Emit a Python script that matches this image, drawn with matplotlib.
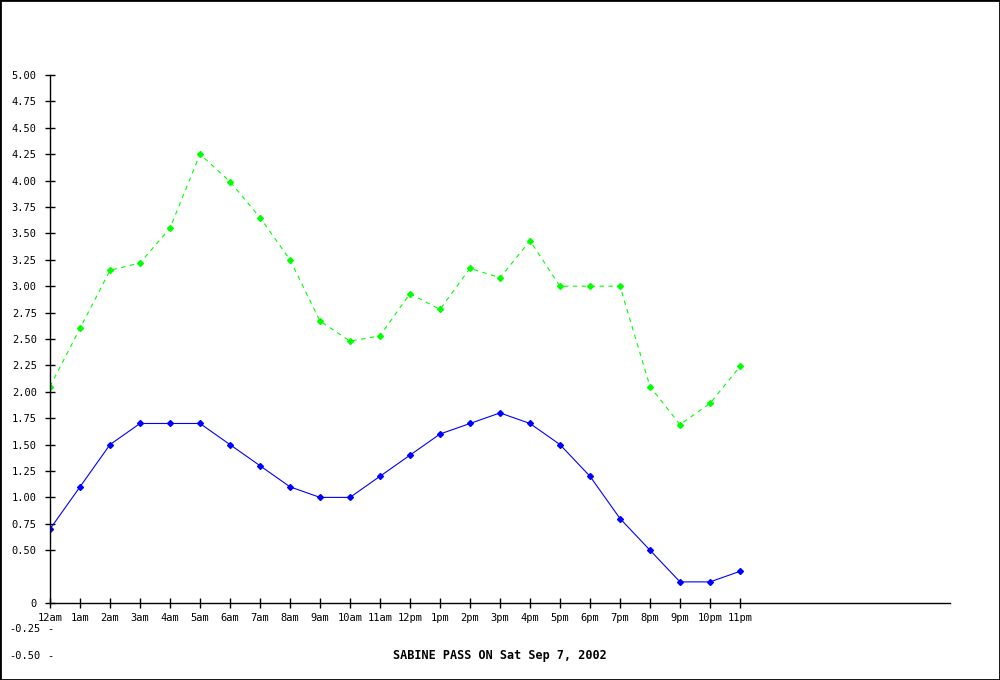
#script to redraw the Sabine Pass hourly chart

import matplotlib
matplotlib.use("Agg")
import matplotlib.pyplot as plt
from matplotlib.patches import Rectangle

hours = ["12am", "1am", "2am", "3am", "4am", "5am", "6am", "7am", "8am", "9am",
         "10am", "11am", "12pm", "1pm", "2pm", "3pm", "4pm", "5pm", "6pm", "7pm",
         "8pm", "9pm", "10pm", "11pm"]
blue_vals = [0.7, 1.1, 1.5, 1.7, 1.7, 1.7, 1.5, 1.3, 1.1, 1.0,
             1.0, 1.2, 1.4, 1.6, 1.7, 1.8, 1.7, 1.5, 1.2, 0.8,
             0.5, 0.2, 0.2, 0.3]
green_vals = [2.05, 2.6, 3.15, 3.22, 3.55, 4.25, 3.99, 3.65, 3.25, 2.67,
              2.48, 2.53, 2.93, 2.78, 3.17, 3.08, 3.43, 3.0, 3.0, 3.0,
              2.05, 1.69, 1.89, 2.24]
y_ticks = [0, 0.5, 0.75, 1.0, 1.25, 1.5, 1.75, 2.0, 2.25, 2.5, 2.75, 3.0,
           3.25, 3.5, 3.75, 4.0, 4.25, 4.5, 4.75, 5.0]
neg_ticks = [-0.25, -0.5]
title = "SABINE PASS ON Sat Sep 7, 2002"

plt.rcParams['font.family'] = ['DejaVu Sans Mono']
fs = 7.5

fig = plt.figure(figsize=(10, 6.8), dpi=100)
ax = fig.add_axes([0.05, 77 / 680, 0.90, 528 / 680])

x = list(range(len(hours)))
ax.plot(x, blue_vals, color="#0000ff", linewidth=0.8, marker="D", markersize=3)
ax.plot(x, green_vals, color="#00ff00", linewidth=0.8, linestyle=(0, (4, 4)),
        marker="D", markersize=3)

ax.set_xlim(0, 30)
ax.set_ylim(0, 5)
ax.set_xticks(x)
ax.set_xticklabels(hours, fontsize=fs)
ax.set_yticks(y_ticks)
ax.set_yticklabels(["0" if v == 0 else "%.2f" % v for v in y_ticks], fontsize=fs)
ax.tick_params(direction="inout", length=7, width=1, pad=6)
ax.tick_params(axis="x", pad=4)

for s in ["top", "right"]:
    ax.spines[s].set_visible(False)
for s in ["left", "bottom"]:
    ax.spines[s].set_linewidth(1)

# labels below the axis, drawn like ticks
for v in neg_ticks:
    ax.annotate("%.2f" % v, xy=(0, v), xycoords=("axes fraction", "data"),
                xytext=(-7.2, 0), textcoords="offset points",
                ha="right", va="center", fontsize=fs, annotation_clip=False)
    ax.annotate("-", xy=(0, v), xycoords=("axes fraction", "data"),
                ha="center", va="center", fontsize=fs, annotation_clip=False)

fig.text(0.5, 25 / 680, title, ha="center", va="center", fontsize=8.5,
         fontweight="bold")

fig.patches.append(Rectangle((0, 0), 1, 1, transform=fig.transFigure,
                             fill=False, edgecolor="black", linewidth=2))

fig.savefig("out.png", dpi=100)
